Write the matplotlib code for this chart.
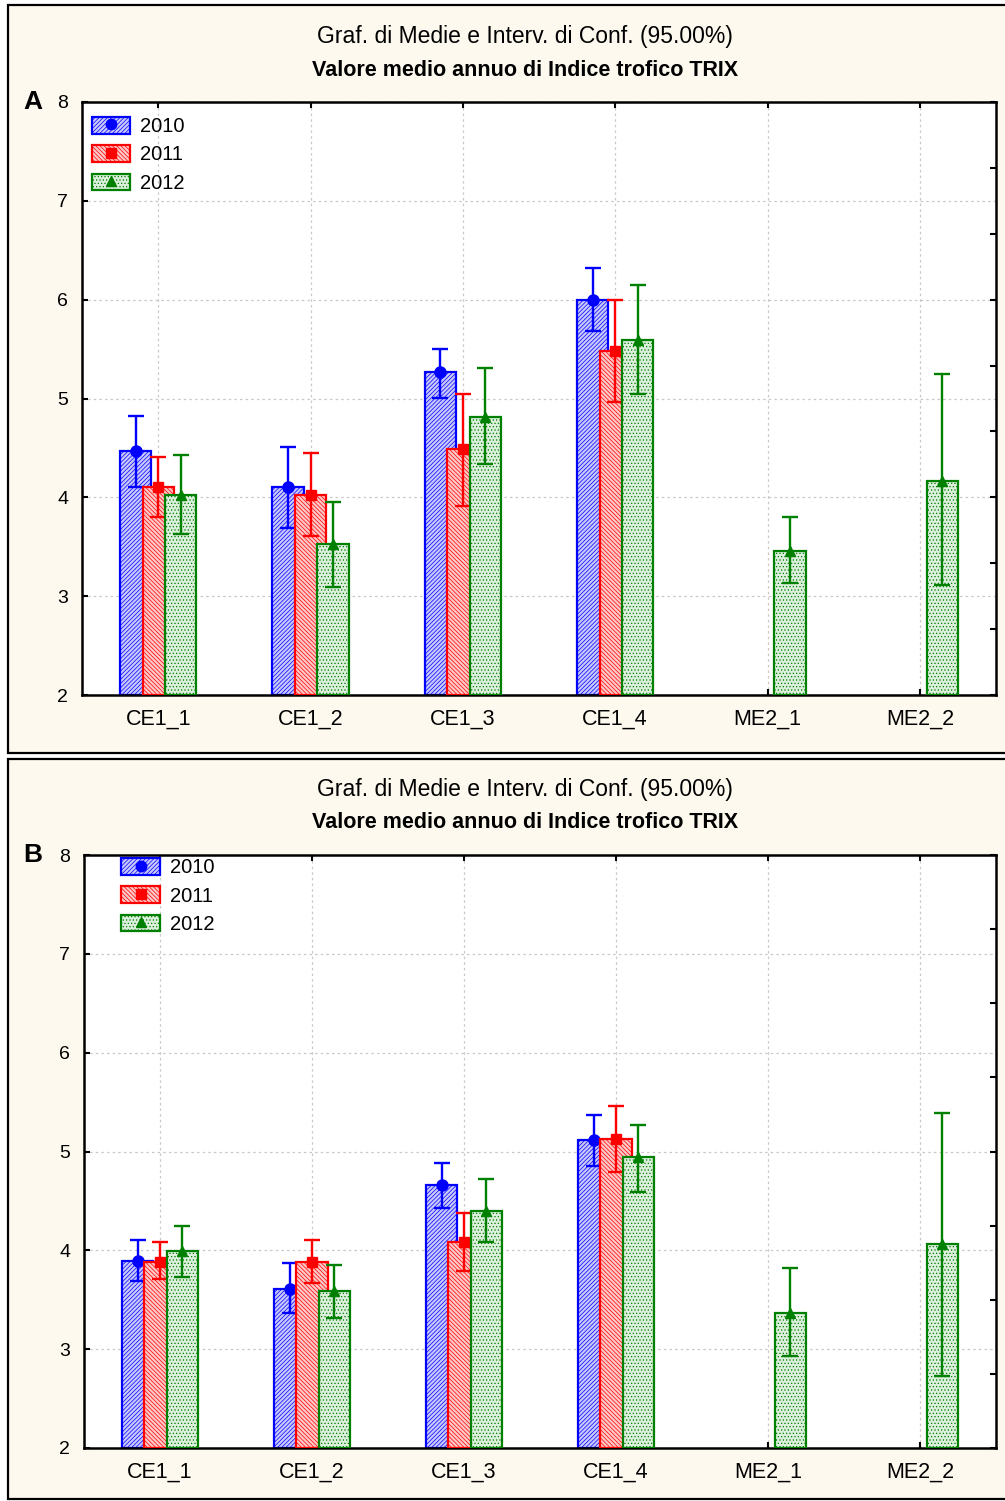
import numpy as np
import matplotlib
matplotlib.use("Agg")
import matplotlib.pyplot as plt
from matplotlib.patches import Rectangle, Patch
from matplotlib.lines import Line2D
from matplotlib.legend_handler import HandlerTuple

plt.rcParams['font.family'] = ['Liberation Sans', 'DejaVu Sans']
plt.rcParams['hatch.linewidth'] = 0.5

categories = ["CE1_1", "CE1_2", "CE1_3", "CE1_4", "ME2_1", "ME2_2"]
years = ["2010", "2011", "2012"]
nan = np.nan

# Panel A: means and 95% CI bounds
A_mean_2010 = [4.47, 4.10, 5.27, 6.00, nan, nan]
A_low_2010 = [4.10, 3.69, 5.01, 5.68, nan, nan]
A_high_2010 = [4.82, 4.51, 5.50, 6.32, nan, nan]
A_mean_2011 = [4.10, 4.02, 4.49, 5.48, nan, nan]
A_low_2011 = [3.80, 3.61, 3.91, 4.96, nan, nan]
A_high_2011 = [4.41, 4.45, 5.05, 6.00, nan, nan]
A_mean_2012 = [4.02, 3.53, 4.81, 5.59, 3.46, 4.17]
A_low_2012 = [3.63, 3.09, 4.34, 5.05, 3.13, 3.11]
A_high_2012 = [4.43, 3.95, 5.31, 6.15, 3.80, 5.25]

# Panel B
B_mean_2010 = [3.89, 3.61, 4.66, 5.12, nan, nan]
B_low_2010 = [3.69, 3.37, 4.43, 4.85, nan, nan]
B_high_2010 = [4.10, 3.87, 4.88, 5.37, nan, nan]
B_mean_2011 = [3.88, 3.88, 4.08, 5.13, nan, nan]
B_low_2011 = [3.71, 3.67, 3.79, 4.79, nan, nan]
B_high_2011 = [4.08, 4.10, 4.38, 5.46, nan, nan]
B_mean_2012 = [3.99, 3.59, 4.40, 4.94, 3.37, 4.06]
B_low_2012 = [3.73, 3.32, 4.08, 4.59, 2.93, 2.73]
B_high_2012 = [4.25, 3.85, 4.72, 5.27, 3.82, 5.39]

y_ticks = [2, 3, 4, 5, 6, 7, 8]

title1 = "Graf. di Medie e Interv. di Conf. (95.00%)"
title2 = "Valore medio annuo di Indice trofico TRIX"

colors = ["#0000ff", "#ff0000", "#008000"]
faces = ["#c8c8ff", "#ffc8c8", "#dcefdc"]
hatches = ["////////", "\\\\\\\\\\\\\\\\", "....."]
markers = ["o", "s", "^"]
msizes = [8, 7.5, 7]
offsets = [-0.148, 0.0, 0.148]
bw = 0.205

W, H = 1005, 1501
fig = plt.figure(figsize=(W / 100, H / 100), dpi=100, facecolor="white")

def fx(px):
    return px / W

def fy(py):
    return 1 - py / H

# Panel frames
for (y0, y1) in [(5, 753), (759, 1499)]:
    fig.patches.append(Rectangle((fx(8), fy(y1)), fx(1010) - fx(8), fy(y0) - fy(y1),
                                 transform=fig.transFigure, facecolor="#fdf9ee",
                                 edgecolor="black", linewidth=1.6, zorder=-5))

def panel(axrect, title_y, letter, data, leg_anchor):
    ax = fig.add_axes(axrect)
    ax.set_zorder(2)
    ax.set_facecolor("white")
    x = np.arange(len(categories))
    for i in range(3):
        means, lows, highs = data[i]
        means = np.array(means, float)
        lows = np.array(lows, float)
        highs = np.array(highs, float)
        ok = ~np.isnan(means)
        xs = x[ok] + offsets[i]
        ax.bar(xs, means[ok] - 2, bottom=2, width=bw, facecolor=faces[i],
               edgecolor=colors[i], hatch=hatches[i], linewidth=1.6, zorder=2 + i)
        ax.errorbar(xs, means[ok], yerr=[means[ok] - lows[ok], highs[ok] - means[ok]],
                    fmt=markers[i], color=colors[i], ms=msizes[i], elinewidth=1.7,
                    capsize=6, capthick=1.7, zorder=2.5 + i)
    ax.set_xlim(-0.5, len(categories) - 0.5)
    ax.set_ylim(2, 8)
    ax.set_xticks(x)
    ax.set_xticklabels(categories, fontsize=15.5)
    ax.set_yticks(y_ticks)
    ax.set_yticklabels([str(t) for t in y_ticks], fontsize=14)
    ax.tick_params(axis="both", direction="in", length=4, width=1.5, top=True)
    ax.tick_params(axis="y", pad=10)
    ax.tick_params(axis="x", pad=10)
    ax.grid(True, linestyle=(0, (2, 2.5)), color="#c8c8c8", linewidth=0.9, zorder=0)
    ax.set_axisbelow(True)
    for s in ax.spines.values():
        s.set_linewidth(1.8)
    ax2 = ax.twinx()
    ax2.set_ylim(2, 8)
    ax2.set_yticks(np.linspace(2, 8, 10 if letter == "A" else 9))
    ax2.set_yticklabels([])
    ax2.tick_params(axis="y", direction="in", length=4, width=1.5)
    for s in ax2.spines.values():
        s.set_visible(False)

    handles = []
    for i in range(3):
        p = Patch(facecolor=faces[i], edgecolor=colors[i], hatch=hatches[i], linewidth=1.6)
        m = Line2D([], [], linestyle="none", marker=markers[i], color=colors[i], ms=msizes[i] - 0.5)
        handles.append((p, m))
    leg = ax.legend(handles, years, handler_map={tuple: HandlerTuple(ndivide=1, pad=0)},
                    loc="upper left", bbox_to_anchor=leg_anchor, frameon=False,
                    fontsize=14.5, handlelength=1.9, handleheight=0.9,
                    labelspacing=0.45, handletextpad=0.5, borderaxespad=0, borderpad=0)
    leg.set_zorder(10)

    fig.text(fx(525), fy(title_y), title1, ha="center", va="center", fontsize=16.5)
    fig.text(fx(525), fy(title_y + 34), title2, ha="center", va="center",
             fontsize=15.5, fontweight="bold")
    fig.text(fx(33), fy(axrect_top_px[letter]), letter, ha="center", va="center",
             fontsize=19, fontweight="bold")
    return ax

axrect_top_px = {"A": 102, "B": 855}

dataA = [(A_mean_2010, A_low_2010, A_high_2010),
         (A_mean_2011, A_low_2011, A_high_2011),
         (A_mean_2012, A_low_2012, A_high_2012)]
dataB = [(B_mean_2010, B_low_2010, B_high_2010),
         (B_mean_2011, B_low_2011, B_high_2011),
         (B_mean_2012, B_low_2012, B_high_2012)]

panel([fx(82), fy(695), fx(996) - fx(82), fy(102) - fy(695)], 36, "A", dataA, (0.011, 0.975))
panel([fx(84), fy(1448), fx(996) - fx(84), fy(855) - fy(1448)], 789, "B", dataB, (0.041, 0.995))

fig.savefig("out.png", dpi=100, facecolor="white")
